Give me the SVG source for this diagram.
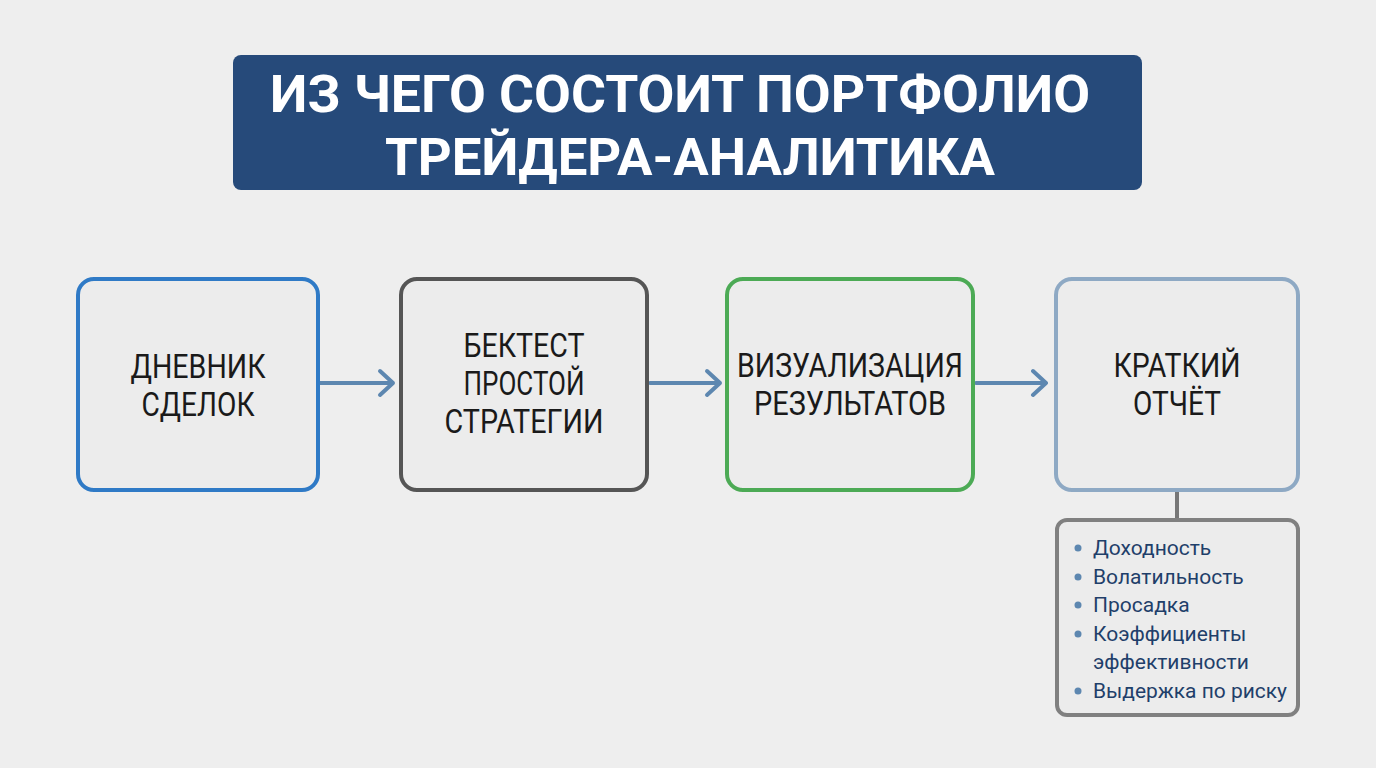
<svg xmlns="http://www.w3.org/2000/svg" width="1376" height="768" viewBox="0 0 1376 768">
<style>
.title{font-family:Roboto,"Liberation Sans",sans-serif;font-weight:bold;font-size:52px;fill:#ffffff;text-anchor:middle}
.box{fill:#ececec;stroke-width:4}
.lbl{font-family:Roboto,"Liberation Sans",sans-serif;font-size:33px;fill:#1a1a1a;text-anchor:middle}
.item{font-family:Roboto,"Liberation Sans",sans-serif;font-size:21px;fill:#1f3f6a}
.dot{fill:#5d87b0}
.arr{stroke:#5d87b0;stroke-width:4;fill:none;stroke-linecap:round;stroke-linejoin:round}
</style>
<rect x="0" y="0" width="1376" height="768" fill="#eeeeee"/>
<g id="title">
<rect x="233" y="55" width="909" height="135" rx="8" fill="#264a7a"/>
<text class="title" x="680" y="112" textLength="820" lengthAdjust="spacingAndGlyphs">ИЗ ЧЕГО СОСТОИТ ПОРТФОЛИО</text>
<text class="title" x="690" y="175" textLength="610" lengthAdjust="spacingAndGlyphs">ТРЕЙДЕРА-АНАЛИТИКА</text>
</g>
<g id="connectors">
<path class="arr" d="M320 383 H393 M380 371 L393 383 L380 395"/>
<path class="arr" d="M650 383 H720 M707 371 L720 383 L707 395"/>
<path class="arr" d="M976 383 H1046 M1033 371 L1046 383 L1033 395"/>
<path d="M1177 491 V519" stroke="#777777" stroke-width="4" fill="none"/>
</g>
<g id="node1">
<rect class="box" x="78" y="279" width="240" height="211" rx="16" stroke="#2f7ac6"/>
<text class="lbl" x="198" y="378" textLength="135" lengthAdjust="spacingAndGlyphs">ДНЕВНИК</text>
<text class="lbl" x="198" y="416" textLength="113" lengthAdjust="spacingAndGlyphs">СДЕЛОК</text>
</g>
<g id="node2">
<rect class="box" x="401" y="279" width="246" height="211" rx="16" stroke="#555555"/>
<text class="lbl" x="524" y="357" textLength="121" lengthAdjust="spacingAndGlyphs">БЕКТЕСТ</text>
<text class="lbl" x="524" y="395" textLength="121" lengthAdjust="spacingAndGlyphs">ПРОСТОЙ</text>
<text class="lbl" x="524" y="433" textLength="159" lengthAdjust="spacingAndGlyphs">СТРАТЕГИИ</text>
</g>
<g id="node3">
<rect class="box" x="727" y="279" width="246" height="211" rx="16" stroke="#4caa55"/>
<text class="lbl" x="850" y="377" textLength="226" lengthAdjust="spacingAndGlyphs">ВИЗУАЛИЗАЦИЯ</text>
<text class="lbl" x="850" y="415" textLength="192" lengthAdjust="spacingAndGlyphs">РЕЗУЛЬТАТОВ</text>
</g>
<g id="node4">
<rect class="box" x="1056" y="279" width="242" height="211" rx="16" stroke="#8ea9c4"/>
<text class="lbl" x="1177" y="377" textLength="127" lengthAdjust="spacingAndGlyphs">КРАТКИЙ</text>
<text class="lbl" x="1177" y="415" textLength="88" lengthAdjust="spacingAndGlyphs">ОТЧЁТ</text>
</g>
<g id="metrics">
<rect x="1057" y="520" width="241" height="195" rx="10" fill="#ececec" stroke="#808080" stroke-width="4"/>
<circle class="dot" cx="1078" cy="548" r="3.5"/>
<circle class="dot" cx="1078" cy="577" r="3.5"/>
<circle class="dot" cx="1078" cy="605" r="3.5"/>
<circle class="dot" cx="1078" cy="634" r="3.5"/>
<circle class="dot" cx="1078" cy="691" r="3.5"/>
<text class="item" x="1093" y="555">Доходность</text>
<text class="item" x="1093" y="584">Волатильность</text>
<text class="item" x="1093" y="612">Просадка</text>
<text class="item" x="1093" y="641">Коэффициенты</text>
<text class="item" x="1093" y="669">эффективности</text>
<text class="item" x="1093" y="698" textLength="194" lengthAdjust="spacingAndGlyphs">Выдержка по риску</text>
</g>
</svg>
